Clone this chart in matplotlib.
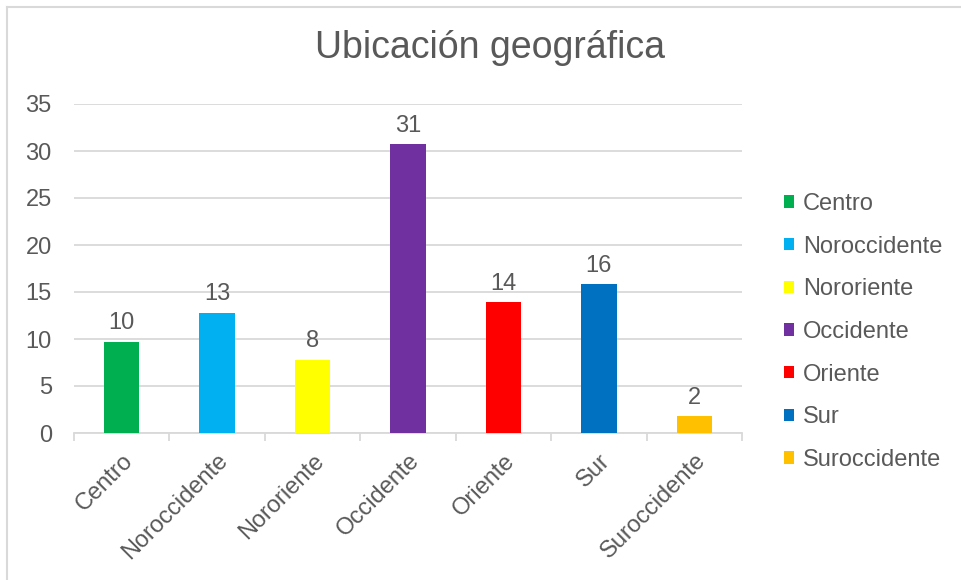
import matplotlib.pyplot as plt
from matplotlib.patches import Patch
from matplotlib.lines import Line2D

plt.rcParams['font.family'] = ['Liberation Sans', 'DejaVu Sans']

categorias = ['Centro', 'Noroccidente', 'Nororiente', 'Occidente', 'Oriente', 'Sur', 'Suroccidente']
valores = [9.7, 12.8, 7.8, 30.7, 13.9, 15.8, 1.8]
etiquetas = ['10', '13', '8', '31', '14', '16', '2']
colores = ['#00b050', '#00b0f0', '#ffff00', '#7030a0', '#ff0000', '#0070c0', '#ffc000']

gris = '#595959'
linea = '#d9d9d9'

fig = plt.figure(figsize=(9.61, 5.8), dpi=100)
ax = fig.add_axes([74 / 961, 1 - 433 / 580, (742 - 74) / 961, (433 - 104) / 580])

x = range(len(categorias))
ax.bar(x, valores, width=0.37, color=colores, zorder=3)
for i, v in enumerate(valores):
    ax.text(i, v + 0.8, etiquetas[i], ha='center', va='bottom', fontsize=17, color=gris)

ax.set_xlim(-0.5, len(categorias) - 0.5)
ax.set_ylim(0, 35)
ax.set_yticks(range(0, 36, 5))
ax.yaxis.grid(True, color=linea, linewidth=1.3, zorder=0)
ax.tick_params(axis='y', length=0, labelsize=17, labelcolor=gris, pad=16)

ax.set_xticks(list(x))
ax.set_xticklabels(categorias, rotation=45, ha='right', rotation_mode='anchor',
                   fontsize=17, color=gris)
ax.tick_params(axis='x', length=0, pad=12)
# marcas entre categorias
ax.set_xticks([i - 0.5 for i in range(len(categorias) + 1)], minor=True)
ax.tick_params(axis='x', which='minor', length=6, color=linea, width=1.3)

for s in ['top', 'right', 'left']:
    ax.spines[s].set_visible(False)
ax.spines['bottom'].set_color(linea)
ax.spines['bottom'].set_linewidth(1.3)

fig.text(490 / 961, 1 - 48 / 580, 'Ubicación geográfica', ha='center', va='center',
         fontsize=27, color=gris)

handles = [Patch(facecolor=c, edgecolor='none') for c in colores]
leg = fig.legend(handles, categorias, loc='upper left', bbox_to_anchor=(765 / 961, 1 - 174 / 580),
                 frameon=False, fontsize=17, labelcolor=gris, handlelength=0.42, handleheight=0.42,
                 handletextpad=0.4, labelspacing=0.875, borderpad=0.3)

# borde del grafico
fig.add_artist(Line2D([7 / 961, 1], [1 - 7 / 580, 1 - 7 / 580], color=linea, linewidth=1.5))
fig.add_artist(Line2D([7 / 961, 7 / 961], [0, 1 - 7 / 580], color=linea, linewidth=1.5))

fig.savefig('out.png', dpi=100)
